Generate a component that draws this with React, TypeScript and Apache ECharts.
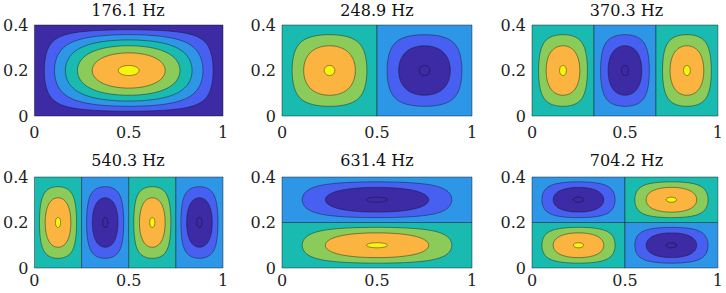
import React, { useEffect, useRef } from "react";
import * as echarts from "echarts";

// Mode data
const frequencies = ["176.1 Hz", "248.9 Hz", "370.3 Hz", "540.3 Hz", "631.4 Hz", "704.2 Hz"];
const modeM = [1, 2, 3, 4, 1, 2]; // half-waves along x
const modeN = [1, 1, 1, 1, 2, 2]; // half-waves along y
const plateLength = 1;
const plateWidth = 0.4;
// contour levels (fraction of peak amplitude)
const levelsSinglePolarity = [0.164, 0.328, 0.493, 0.657, 0.821, 0.985];
const levelsTwoPolarity = [0.328, 0.657, 0.985];
const xTicks = [0, 0.5, 1];
const yTicks = [0, 0.2, 0.4];

// parula-like band colours
const C_DARK = "#3d2aa5";
const C_BLUE = "#4760f2";
const C_LBLUE = "#2d96e6";
const C_TEAL = "#19bbb0";
const C_GREEN = "#8acb5a";
const C_ORANGE = "#fbb43f";
const C_YELLOW = "#f5f50f";

const singleColors = [C_DARK, C_BLUE, C_LBLUE, C_TEAL, C_GREEN, C_ORANGE, C_YELLOW];
const posColors = [C_TEAL, C_GREEN, C_ORANGE, C_YELLOW];
const negColors = [C_LBLUE, C_BLUE, C_DARK, C_DARK];

const gridLefts = [33, 282, 532];
const gridWidths = [190, 190, 189];
const gridTops = [25, 177];
const gridHeight = 91;
const xLabelMargins = [8, 4];

type Poly = { pts: number[][]; color: string };

function contourLoop(L: number, x0: number, x1: number, y0: number, y1: number): number[][] {
  const a = Math.asin(L) / Math.PI;
  const N = 70;
  const top: number[][] = [];
  const bot: number[][] = [];
  for (let k = 0; k <= N; k++) {
    const t = (Math.PI * k) / N;
    const u = a + (1 - 2 * a) * (1 - Math.cos(t)) / 2;
    const s = Math.sin(Math.PI * u);
    const r = Math.min(1, L / Math.max(s, 1e-9));
    const vl = Math.asin(r) / Math.PI;
    const x = x0 + u * (x1 - x0);
    top.push([x, y0 + (1 - vl) * (y1 - y0)]);
    bot.push([x, y0 + vl * (y1 - y0)]);
  }
  return top.concat(bot.reverse());
}

function buildPolys(m: number, n: number): Poly[] {
  const polys: Poly[] = [];
  const single = m === 1 && n === 1;
  for (let i = 0; i < m; i++) {
    for (let j = 0; j < n; j++) {
      const x0 = (i * plateLength) / m;
      const x1 = ((i + 1) * plateLength) / m;
      const y0 = (j * plateWidth) / n;
      const y1 = ((j + 1) * plateWidth) / n;
      const positive = (i + j) % 2 === 0;
      const colors = single ? singleColors : positive ? posColors : negColors;
      const levels = single ? levelsSinglePolarity : levelsTwoPolarity;
      polys.push({ pts: [[x0, y0], [x1, y0], [x1, y1], [x0, y1]], color: colors[0] });
      levels.forEach((L, k) => {
        polys.push({ pts: contourLoop(L, x0, x1, y0, y1), color: colors[k + 1] });
      });
    }
  }
  return polys;
}

const FONT = "DejaVu Serif";
const FONT_SIZE = 16;

export default function App() {
  const ref = useRef<HTMLDivElement>(null);
  useEffect(() => {
    if (!ref.current) return;
    const chart = echarts.init(ref.current, undefined, { renderer: "svg" });
    const grids: any[] = [];
    const xAxes: any[] = [];
    const yAxes: any[] = [];
    const series: any[] = [];
    const titles: any[] = [];
    frequencies.forEach((f, idx) => {
      const row = Math.floor(idx / 3);
      const col = idx % 3;
      grids.push({
        left: gridLefts[col],
        top: gridTops[row],
        width: gridWidths[col],
        height: gridHeight,
        containLabel: false,
      });
      xAxes.push({
        gridIndex: idx,
        type: "value",
        min: xTicks[0],
        max: xTicks[xTicks.length - 1],
        interval: 0.5,
        axisLine: { show: false },
        axisTick: { show: false },
        splitLine: { show: false },
        axisLabel: {
          margin: xLabelMargins[row],
          fontFamily: FONT,
          fontSize: FONT_SIZE,
          color: "#222",
          showMinLabel: true,
          showMaxLabel: true,
        },
      });
      yAxes.push({
        gridIndex: idx,
        type: "value",
        min: yTicks[0],
        max: yTicks[yTicks.length - 1],
        interval: 0.2,
        axisLine: { show: false },
        axisTick: { show: false },
        splitLine: { show: false },
        axisLabel: { margin: 6, fontFamily: FONT, fontSize: FONT_SIZE, color: "#222" },
      });
      const polys = buildPolys(modeM[idx], modeN[idx]);
      series.push({
        type: "custom",
        xAxisIndex: idx,
        yAxisIndex: idx,
        data: polys.map((_, k) => [k]),
        renderItem: (params: any, api: any) => {
          const p = polys[params.dataIndex];
          return {
            type: "polygon",
            shape: { points: p.pts.map((q) => api.coord(q)) },
            style: { fill: p.color, stroke: "rgba(20,20,20,0.75)", lineWidth: 0.6 },
          };
        },
      });
      titles.push({
        text: f,
        left: gridLefts[col] + gridWidths[col] / 2,
        top: row === 0 ? 2 : 152.5,
        textAlign: "center",
        padding: 0,
        textStyle: { fontFamily: FONT, fontSize: FONT_SIZE, fontWeight: "normal", color: "#111" },
      });
    });
    chart.setOption({
      animation: false,
      backgroundColor: "#ffffff",
      textStyle: { fontFamily: FONT },
      title: titles,
      grid: grids,
      xAxis: xAxes,
      yAxis: yAxes,
      series,
    });
    return () => chart.dispose();
  }, []);
  return (
    <div
      ref={ref}
      style={{ position: "fixed", left: 0, top: 0, width: 726, height: 293 }}
    />
  );
}
